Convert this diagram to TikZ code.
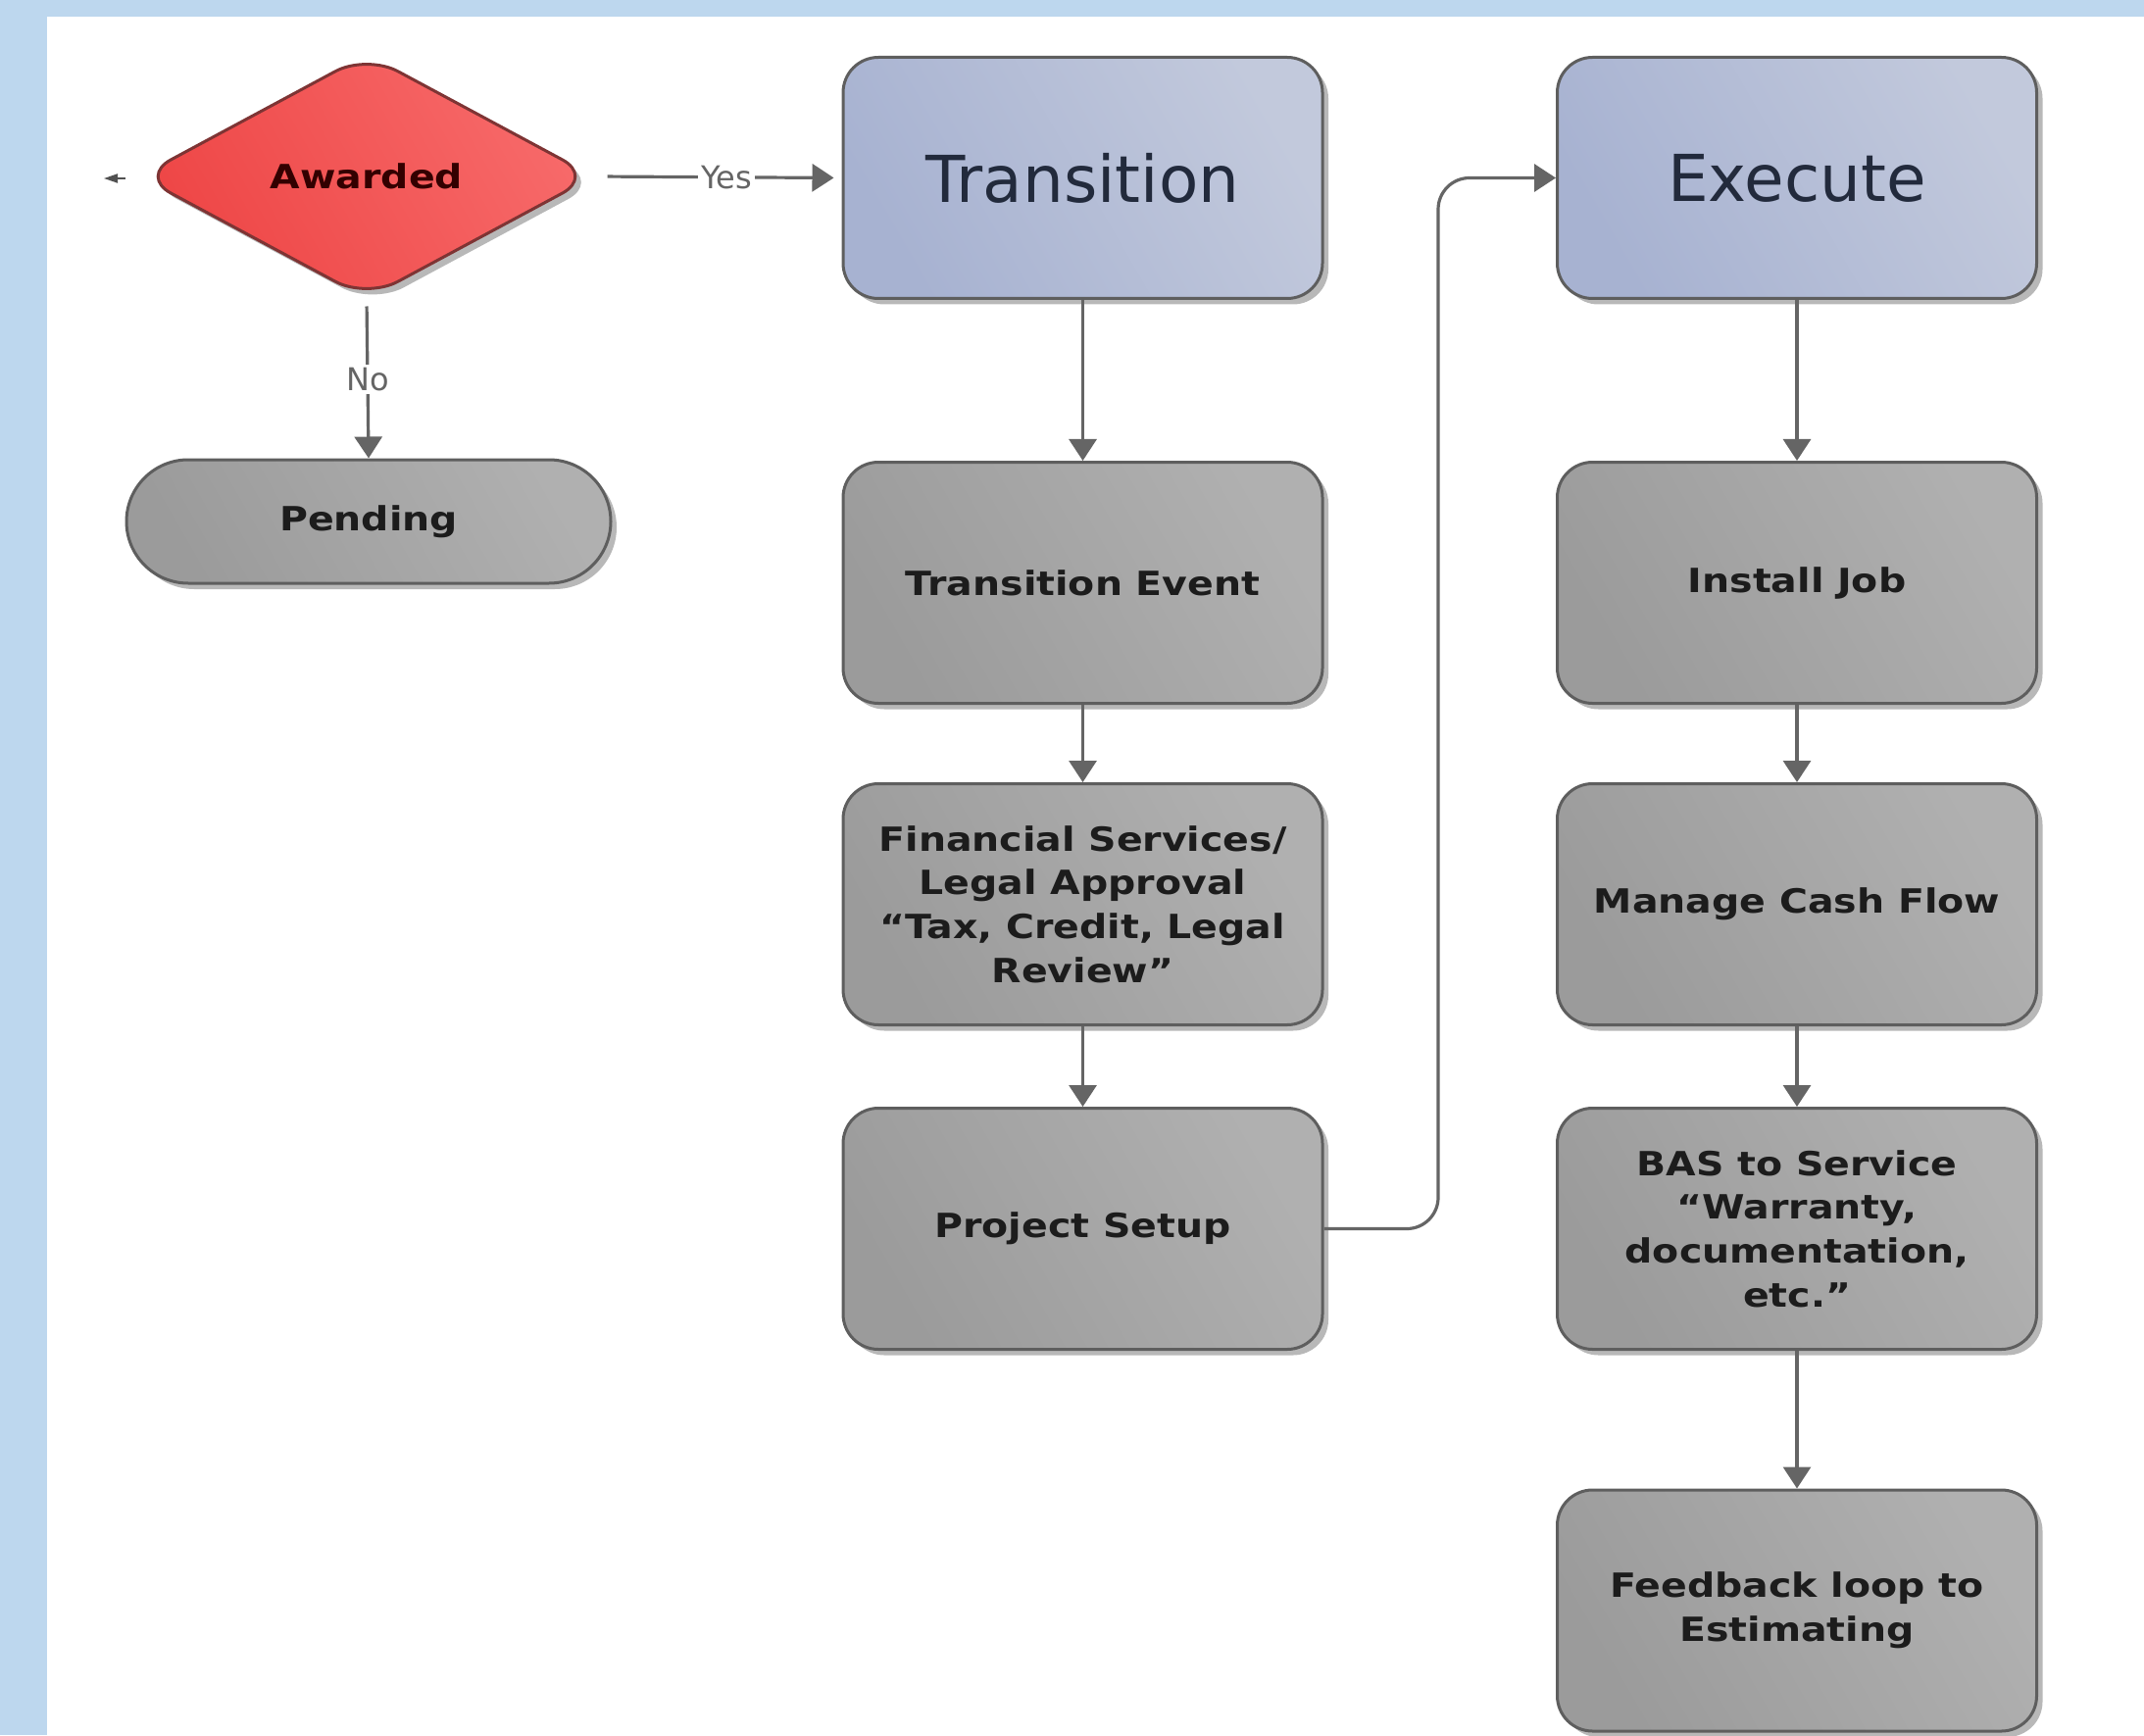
\documentclass[tikz,border=0pt]{standalone}
\usepackage{fontspec}
\usetikzlibrary{shapes.geometric,shapes.misc,arrows.meta,shadows}
\newfontfamily\boxfont{DejaVu Sans}[FakeStretch=1.16]
\newfontfamily\titlefont{DejaVu Sans}
\definecolor{band}{HTML}{BDD7EE}
\definecolor{edgegray}{HTML}{5E5E5E}
\definecolor{lineg}{HTML}{656565}
\definecolor{blueA}{HTML}{A7B2D1}
\definecolor{blueB}{HTML}{C2C9DC}
\definecolor{grayA}{HTML}{9B9B9B}
\definecolor{grayB}{HTML}{B0B0B0}
\definecolor{redA}{HTML}{EE4646}
\definecolor{redB}{HTML}{F76A6A}
\definecolor{redEdge}{HTML}{7E3434}
\definecolor{titletext}{HTML}{222A3C}
\definecolor{boxtext}{HTML}{1C1C1C}
\begin{document}
\begin{tikzpicture}[x=0.5pt,y=-0.5pt,
  shadowed/.style={drop shadow={shadow xshift=3pt,shadow yshift=-3pt,opacity=0.28,fill=black}},
  basebox/.style={shadowed,draw=edgegray,line width=1.5pt,rounded corners=18pt,
    minimum width=244.5pt,minimum height=123pt,inner sep=4pt,align=center},
  bluebox/.style={basebox,left color=blueA,right color=blueB,shading angle=120,
    font=\titlefont\fontsize{33}{40}\selectfont,text=titletext},
  graybox/.style={basebox,left color=grayA,right color=grayB,shading angle=120,
    font=\boxfont\bfseries\fontsize{17}{22.3}\selectfont,text=boxtext},
  arr/.style={draw=lineg,line width=1.6pt,-{Triangle[length=11pt,width=14pt]},color=lineg},
  lbl/.style={fill=white,inner sep=1.5pt,text=lineg,font=\titlefont\fontsize{16}{19}\selectfont}
]
\useasboundingbox (0,0) rectangle (2187,1770);
\fill[band] (0,0) rectangle (2187,1770);
\fill[white] (48,17) rectangle (2187,1770);

% decision and pending
\node[diamond,aspect=1.83,minimum width=232pt,minimum height=125pt,inner sep=0pt,
  draw=redEdge,line width=1.5pt,rounded corners=18pt,left color=redA,right color=redB,
  shading angle=120,shadowed,text=black!80!red,
  font=\boxfont\bfseries\fontsize{17}{20}\selectfont] (aw) at (374,180) {Awarded};
\node[rounded rectangle,minimum width=247pt,minimum height=63pt,inner sep=0pt,
  draw=edgegray,line width=1.5pt,left color=grayA,right color=grayB,shading angle=120,
  shadowed,text=boxtext,font=\boxfont\bfseries\fontsize{17}{20}\selectfont]
  (pd) at (376,532) {Pending};

% column 1
\node[bluebox] (tr) at (1104.5,181.5) {Transition};
\node[graybox] (te) at (1104.5,594.5) {Transition Event};
\node[graybox] (fs) at (1104.5,922.5) {Financial Services/\\Legal Approval\\“Tax, Credit, Legal\\Review”};
\node[graybox] (ps) at (1104.5,1253.5) {Project Setup};

% column 2
\node[bluebox] (ex) at (1833,181.5) {Execute};
\node[graybox] (ij) at (1833,594.5) {Install Job};
\node[graybox] (mc) at (1833,922.5) {Manage Cash Flow};
\node[graybox] (bs) at (1833,1253.5) {BAS to Service\\“Warranty,\\documentation,\\etc.”};
\node[graybox] (fb) at (1833,1643) {Feedback loop to\\Estimating};

% small stray arrow at left of decision
\coordinate (lt1) at (128,182);
\coordinate (lt2) at (106,182);
\draw[draw=lineg,line width=1pt,-{Triangle[length=7pt,width=4.5pt]},color=lineg!80!black] (lt1) -- (lt2);

% connectors
\draw[arr,shorten <=6pt,shorten >=4pt] (aw.east) -- node[lbl,xshift=4pt]{Yes} (tr.west);
\draw[arr,shorten <=3pt] (aw.south) -- node[lbl]{No} (pd.north);
\draw[arr] (tr) -- (te);
\draw[arr] (te) -- (fs);
\draw[arr] (fs) -- (ps);
\coordinate (bendx) at (1467,0);
\draw[arr,rounded corners=16pt] (ps.east) -- (ps.east -| bendx) -- (ex.west -| bendx) -- (ex.west);
\draw[arr] (ex) -- (ij);
\draw[arr] (ij) -- (mc);
\draw[arr] (mc) -- (bs);
\draw[arr] (bs) -- (fb);
\end{tikzpicture}
\end{document}
